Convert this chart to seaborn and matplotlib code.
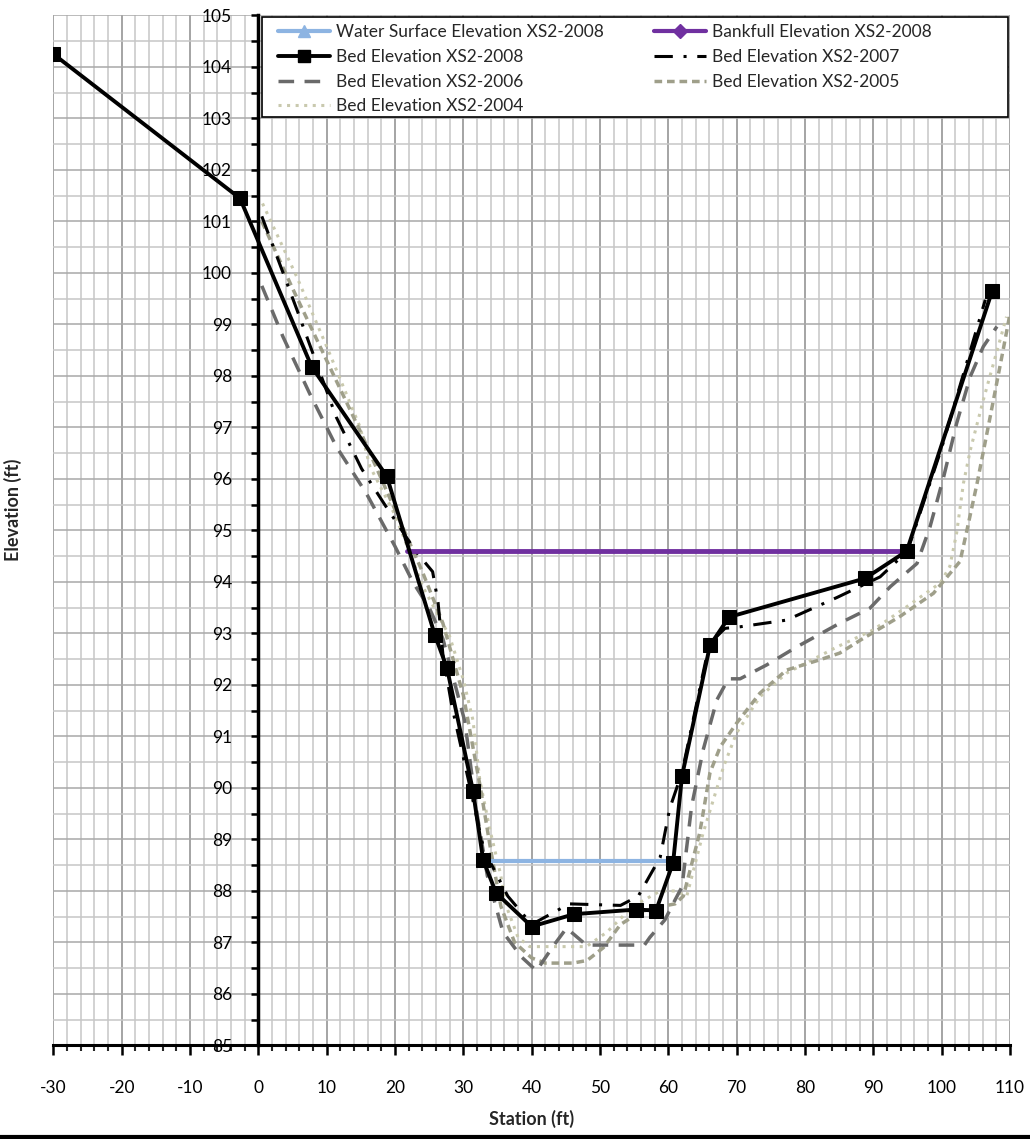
import matplotlib
matplotlib.use("Agg")
import matplotlib.pyplot as plt
from matplotlib.lines import Line2D
from matplotlib.patches import Rectangle
from matplotlib.ticker import MultipleLocator
import seaborn as sns

# ── Data ─────────────────────────────────────────────────────────────────────
wse_x = [32.5, 60.7]
wse_y = [88.58, 88.58]

bank_x = [21.8, 94.9]
bank_y = [94.6, 94.6]

bed2008_x = [-30, -2.7, 7.8, 18.8, 25.8, 27.6, 31.4, 32.9, 34.8, 40.0, 46.2,
             55.3, 58.2, 60.7, 62.0, 66.1, 68.9, 88.8, 94.9, 107.4]
bed2008_y = [104.25, 101.45, 98.18, 96.05, 92.98, 92.33, 89.95, 88.6, 87.96,
             87.31, 87.55, 87.64, 87.62, 88.55, 90.23, 92.77, 93.32, 94.07,
             94.6, 99.65]

bed2007_x = [0.5, 5.6, 11.4, 15.1, 18.5, 21.0, 23.0, 25.5, 26.3, 27.0, 28.3,
             31.0, 33.0, 36.5, 40.0, 45.5, 53.0, 55.6, 57.3, 58.8, 60.2, 62.0,
             66.0, 68.3, 70.5, 77.3, 84.7, 91.0, 95.0, 100.0, 106.4]
bed2007_y = [101.1, 99.3, 97.2, 96.2, 95.5, 95.0, 94.6, 94.2, 93.6, 92.6, 91.6,
             90.0, 88.8, 87.9, 87.35, 87.75, 87.72, 87.9, 88.3, 88.65, 89.6,
             90.3, 92.8, 93.1, 93.13, 93.26, 93.7, 94.1, 94.6, 96.6, 99.48]

bed2006_x = [0.5, 3.6, 7.5, 11.4, 15.8, 20.0, 22.6, 25.0, 27.0, 30.2, 32.0,
             33.5, 35.8, 38.5, 40.7, 43.1, 45.1, 48.0, 56.5, 57.3, 59.5, 61.0,
             62.0, 63.4, 65.1, 67.1, 68.8, 70.5, 74.4, 78.8, 85.1, 89.5, 92.5,
             96.4, 98.3, 100.3, 102.2, 104.2, 106.1, 108.1]
bed2006_y = [99.75, 98.76, 97.66, 96.63, 95.72, 94.69, 94.0, 93.5, 92.9, 91.3,
             89.5, 88.3, 87.2, 86.72, 86.45, 86.92, 87.28, 86.95, 86.95, 87.1,
             87.44, 87.83, 88.08, 89.64, 90.74, 91.71, 92.12, 92.12, 92.39,
             92.74, 93.2, 93.49, 93.91, 94.36, 95.07, 96.04, 97.08, 97.99,
             98.57, 98.96]

bed2005_x = [0.5, 5.0, 10.0, 15.0, 20.0, 24.0, 27.0, 30.0, 32.5, 34.0, 35.5,
             37.5, 40.0, 42.0, 46.0, 48.1, 50.5, 53.0, 56.0, 59.0, 61.0, 62.2,
             64.6, 66.1, 67.6, 70.0, 73.4, 77.3, 82.2, 85.1, 88.1, 93.9, 98.8,
             100.5, 102.7, 103.7, 105.2, 107.1, 109.0, 110.0]
bed2005_y = [101.0, 99.7, 98.3, 96.9, 95.4, 94.2, 93.2, 91.8, 90.0, 88.8, 87.7,
             87.0, 86.7, 86.6, 86.6, 86.65, 86.9, 87.35, 87.6, 87.7, 87.75,
             87.9, 89.13, 90.3, 90.8, 91.26, 91.84, 92.29, 92.49, 92.62, 92.87,
             93.33, 93.78, 94.05, 94.4, 95.0, 95.92, 97.2, 98.5, 99.2]

bed2004_x = [0.6, 5.6, 10.0, 14.9, 16.3, 20.0, 24.1, 28.0, 30.0, 31.4, 32.4,
             33.9, 35.4, 36.3, 38.0, 39.7, 48.0, 51.0, 54.8, 58.8, 61.0, 62.7,
             65.1, 68.1, 70.0, 73.4, 77.3, 84.7, 90.0, 94.9, 99.8, 101.2,
             102.2, 103.2, 104.2, 106.1, 109.5]
bed2004_y = [101.35, 99.93, 98.57, 97.0, 96.25, 95.3, 93.9, 92.94, 92.1, 91.32,
             90.16, 89.18, 88.35, 87.7, 87.1, 86.92, 86.92, 87.2, 87.7, 88.0,
             88.0, 87.9, 89.13, 90.42, 91.07, 91.77, 92.23, 92.74, 93.07, 93.52,
             93.98, 94.3, 94.95, 95.92, 96.56, 97.53, 99.15]

# ── Style ────────────────────────────────────────────────────────────────────
sns.set_style("white")
plt.rcParams['font.family'] = ['Lato', 'DejaVu Sans']
plt.rcParams['axes.unicode_minus'] = False

fig = plt.figure(figsize=(10.30, 11.39), dpi=100)
ax = fig.add_axes([0.0519, 0.0821, 0.9286, 0.9043])

c2005 = '#9f9f8a'
c2004 = '#c9c9ae'
ls2007 = (0, (6, 3.5, 1, 3.5))
ls2006 = (0, (4.5, 3))
ls2005 = (0, (2.2, 1.4))
ls2004 = (0, (1, 1.8))

sns.lineplot(x=bed2004_x, y=bed2004_y, ax=ax, sort=False, estimator=None,
             color=c2004, lw=2.2, linestyle=ls2004)
sns.lineplot(x=bed2005_x, y=bed2005_y, ax=ax, sort=False, estimator=None,
             color=c2005, lw=2.5, linestyle=ls2005)
sns.lineplot(x=bed2006_x, y=bed2006_y, ax=ax, sort=False, estimator=None,
             color='#6a6a6a', lw=2.5, linestyle=ls2006)
sns.lineplot(x=bed2007_x, y=bed2007_y, ax=ax, sort=False, estimator=None,
             color='black', lw=2.2, linestyle=ls2007)
sns.lineplot(x=wse_x, y=wse_y, ax=ax, sort=False, estimator=None,
             color='#8db4e2', lw=3)
sns.lineplot(x=bank_x, y=bank_y, ax=ax, sort=False, estimator=None,
             color='#7030a0', lw=3.5)
sns.lineplot(x=bed2008_x, y=bed2008_y, ax=ax, sort=False, estimator=None,
             color='black', lw=2.8, marker='s', markersize=10,
             markeredgecolor='black')

# ── Axes, grid, ticks ────────────────────────────────────────────────────────
ax.set_xlim(-30, 110)
ax.set_ylim(85, 105)
ax.xaxis.set_major_locator(MultipleLocator(10))
ax.xaxis.set_minor_locator(MultipleLocator(2))
ax.yaxis.set_major_locator(MultipleLocator(1))
ax.yaxis.set_minor_locator(MultipleLocator(0.5))
ax.grid(which='major', axis='x', color='#8c8c8c', lw=1.1)
ax.grid(which='minor', axis='x', color='#c6c6c6', lw=1.1)
ax.grid(which='major', axis='y', color='#a8a8a8', lw=1.1)
ax.grid(which='minor', axis='y', color='#c6c6c6', lw=1.1)
ax.set_axisbelow(True)

ax.spines['left'].set_position(('data', 0))
ax.spines['left'].set_linewidth(2.5)
ax.spines['bottom'].set_linewidth(2.2)
ax.spines['left'].set_color('black')
ax.spines['bottom'].set_color('black')
ax.spines['top'].set_visible(False)
ax.spines['right'].set_visible(False)

ax.tick_params(axis='x', which='major', direction='out', length=7, width=1.8,
               pad=18, labelsize=12.5, colors='black')
ax.tick_params(axis='x', which='minor', direction='out', length=4, width=1.5)
ax.tick_params(axis='y', which='both', direction='out', length=5, width=1.8,
               pad=14, labelsize=12.5, colors='black')
ax.tick_params(axis='both', which='both', bottom=True, left=True)

ax.set_xlabel('Station (ft)', fontsize=13, fontweight='bold', labelpad=10)
ax.set_ylabel('Elevation (ft)', fontsize=13, fontweight='bold')
ax.yaxis.set_label_coords(-0.033, 0.52)

# ── Legend (row order as in the original) ────────────────────────────────────
h_wse = Line2D([], [], color='#8db4e2', lw=3, marker='^', markersize=9)
h_bank = Line2D([], [], color='#7030a0', lw=3, marker='D', markersize=7)
h_2008 = Line2D([], [], color='black', lw=2.8, marker='s', markersize=9)
h_2007 = Line2D([], [], color='black', lw=2.2, linestyle=ls2007)
h_2006 = Line2D([], [], color='#6a6a6a', lw=2.5, linestyle=ls2006)
h_2005 = Line2D([], [], color=c2005, lw=2.5, linestyle=ls2005)
h_2004 = Line2D([], [], color=c2004, lw=2.2, linestyle=ls2004)

handles = [h_wse, h_2008, h_2006, h_2004, h_bank, h_2007, h_2005]
labels = ['Water Surface Elevation XS2-2008', 'Bed Elevation XS2-2008',
          'Bed Elevation XS2-2006', 'Bed Elevation XS2-2004',
          'Bankfull Elevation XS2-2008', 'Bed Elevation XS2-2007',
          'Bed Elevation XS2-2005']

# legend box is wider than its entries, so the frame is drawn on its own
ax.add_patch(Rectangle((0.2179, 0.9015), 0.7801, 0.097, transform=ax.transAxes,
                       facecolor='white', edgecolor='black', lw=1.2,
                       zorder=4, clip_on=False))
leg = ax.legend(handles, labels, ncol=2, loc='upper left',
                bbox_to_anchor=(0.2347, 0.9915), frameon=False,
                fontsize=12.5, handlelength=3.0, handletextpad=0.35,
                labelspacing=0.5, columnspacing=2.9,
                borderaxespad=0, borderpad=0)
leg.set_zorder(5)

# page border line under the chart
fig.add_artist(Line2D([0, 1], [0.0018, 0.0018], transform=fig.transFigure,
                      color='black', lw=3))

fig.savefig('out.png', dpi=100)
